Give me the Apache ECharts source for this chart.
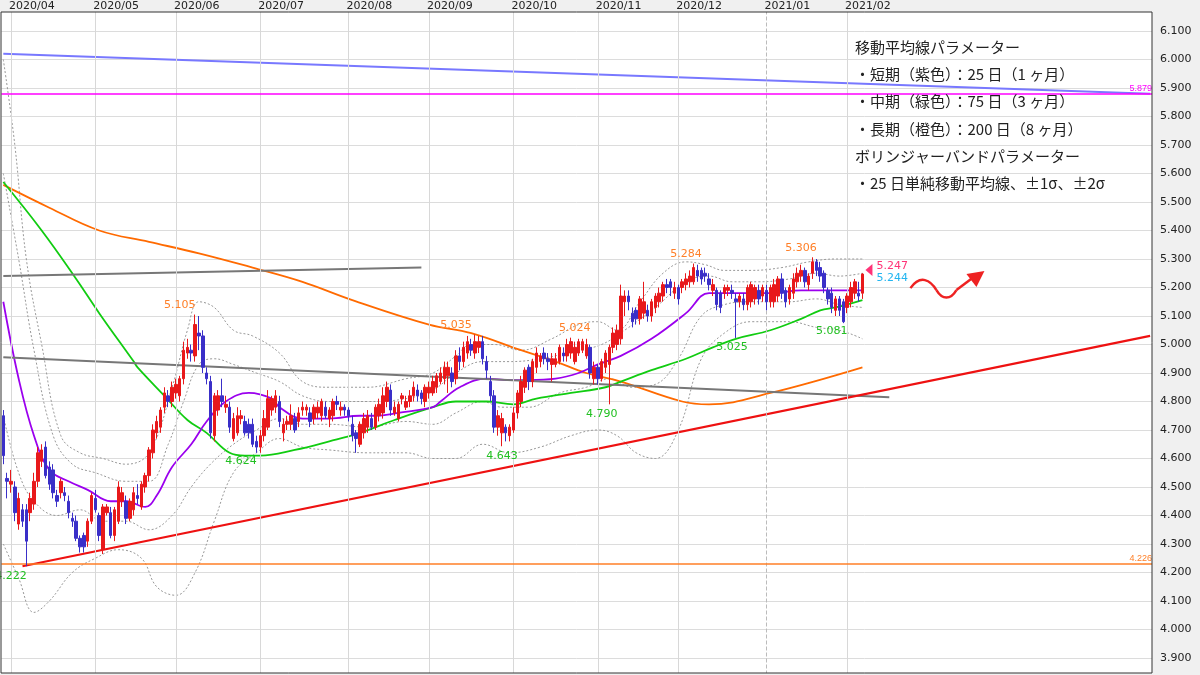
<!DOCTYPE html>
<html><head><meta charset="utf-8">
<script src="https://cdn.jsdelivr.net/npm/echarts@6/dist/echarts.min.js"></script>
<style>html,body{margin:0;padding:0;background:#fff}#c{width:1200px;height:675px}</style>
</head><body><div id="c"></div>
<script>
// ---- data ----
// [open, close, low, high]
const ohlc = [
[4.75,4.61,4.58,4.77],[4.53,4.52,4.46,4.55],[4.51,4.52,4.48,4.56],[4.50,4.41,4.38,4.52],[4.37,4.46,4.35,4.48],
[4.42,4.38,4.36,4.44],[4.42,4.31,4.222,4.44],[4.41,4.46,4.38,4.48],[4.44,4.52,4.42,4.55],[4.52,4.62,4.50,4.64],
[4.59,4.63,4.57,4.65],[4.64,4.54,4.53,4.66],[4.57,4.51,4.49,4.59],[4.56,4.48,4.46,4.58],[4.47,4.45,4.43,4.49],
[4.48,4.52,4.46,4.53],[4.48,4.47,4.45,4.50],[4.45,4.41,4.39,4.47],[4.39,4.38,4.36,4.41],[4.38,4.32,4.31,4.40],
[4.32,4.29,4.27,4.33],[4.33,4.29,4.27,4.34],[4.31,4.38,4.29,4.39],[4.38,4.47,4.37,4.48],[4.46,4.42,4.41,4.49],
[4.40,4.33,4.31,4.41],[4.28,4.43,4.265,4.44],[4.41,4.43,4.40,4.44],[4.41,4.33,4.32,4.43],[4.33,4.42,4.31,4.43],
[4.38,4.50,4.37,4.52],[4.45,4.48,4.43,4.50],[4.45,4.39,4.37,4.47],[4.39,4.45,4.38,4.46],[4.42,4.48,4.40,4.50],
[4.47,4.46,4.44,4.51],[4.43,4.51,4.42,4.52],[4.50,4.54,4.48,4.55],[4.54,4.63,4.52,4.64],[4.62,4.70,4.60,4.72],
[4.69,4.73,4.67,4.75],[4.71,4.77,4.69,4.78],[4.78,4.83,4.76,4.85],[4.82,4.80,4.78,4.84],[4.80,4.85,4.78,4.87],
[4.83,4.86,4.81,4.88],[4.82,4.88,4.80,4.89],[4.88,4.98,4.86,5.01],[4.97,4.99,4.95,5.02],[4.98,4.97,4.94,5.00],
[4.96,5.07,4.94,5.105],[5.04,5.03,4.98,5.10],[5.03,4.92,4.90,5.05],[4.90,4.88,4.86,4.92],[4.87,4.69,4.67,4.89],
[4.68,4.82,4.66,4.83],[4.77,4.82,4.75,4.84],[4.82,4.80,4.78,4.88],[4.78,4.79,4.76,4.82],[4.78,4.71,4.69,4.80],
[4.67,4.74,4.66,4.76],[4.69,4.75,4.68,4.78],[4.74,4.75,4.72,4.77],[4.73,4.69,4.68,4.75],[4.72,4.69,4.67,4.74],
[4.72,4.65,4.64,4.74],[4.66,4.64,4.62,4.68],[4.64,4.68,4.62,4.70],[4.68,4.74,4.66,4.77],[4.71,4.81,4.70,4.84],
[4.77,4.81,4.75,4.82],[4.78,4.82,4.76,4.84],[4.80,4.73,4.71,4.82],[4.69,4.72,4.66,4.74],[4.72,4.73,4.70,4.75],
[4.72,4.75,4.70,4.79],[4.74,4.70,4.69,4.76],[4.73,4.76,4.71,4.78],[4.77,4.78,4.75,4.80],[4.77,4.78,4.75,4.79],
[4.76,4.73,4.71,4.78],[4.74,4.78,4.72,4.79],[4.76,4.78,4.74,4.80],[4.75,4.80,4.73,4.81],[4.78,4.75,4.74,4.80],
[4.74,4.77,4.71,4.78],[4.75,4.80,4.73,4.81],[4.80,4.79,4.77,4.82],[4.77,4.78,4.75,4.80],[4.78,4.77,4.75,4.79],
[4.77,4.75,4.73,4.78],[4.72,4.68,4.66,4.75],[4.69,4.67,4.62,4.70],[4.65,4.72,4.64,4.73],[4.69,4.74,4.67,4.76],
[4.71,4.75,4.69,4.77],[4.74,4.71,4.70,4.76],[4.71,4.78,4.70,4.79],[4.75,4.79,4.73,4.81],[4.76,4.82,4.74,4.85],
[4.80,4.85,4.78,4.87],[4.84,4.77,4.75,4.86],[4.76,4.78,4.75,4.80],[4.74,4.79,4.73,4.80],[4.81,4.82,4.79,4.83],
[4.78,4.80,4.77,4.82],[4.80,4.82,4.78,4.84],[4.82,4.85,4.80,4.87],[4.84,4.82,4.80,4.86],[4.83,4.81,4.79,4.84],
[4.80,4.85,4.78,4.86],[4.83,4.85,4.81,4.87],[4.83,4.87,4.82,4.89],[4.85,4.89,4.83,4.90],[4.87,4.90,4.86,4.92],
[4.88,4.92,4.86,4.94],[4.89,4.92,4.83,4.94],[4.90,4.87,4.85,4.92],[4.88,4.96,4.86,4.98],[4.96,4.94,4.91,4.99],
[4.94,4.99,4.92,5.01],[4.97,5.01,4.95,5.03],[5.00,4.98,4.96,5.02],[4.97,5.01,4.95,5.035],[4.99,5.01,4.97,5.03],
[5.01,4.95,4.93,5.03],[4.94,4.91,4.88,4.96],[4.87,4.82,4.80,4.89],[4.82,4.71,4.69,4.84],[4.71,4.75,4.68,4.77],
[4.69,4.74,4.643,4.76],[4.71,4.69,4.66,4.72],[4.68,4.71,4.66,4.72],[4.70,4.76,4.69,4.78],[4.76,4.83,4.74,4.84],
[4.80,4.87,4.78,4.89],[4.85,4.91,4.83,4.92],[4.92,4.87,4.84,4.93],[4.87,4.94,4.85,4.95],[4.92,4.97,4.90,4.99],
[4.94,4.96,4.92,4.97],[4.97,4.95,4.93,4.99],[4.95,4.94,4.91,4.97],[4.93,4.95,4.87,4.97],[4.93,4.95,4.92,4.97],
[4.94,4.99,4.93,5.00],[4.97,4.96,4.94,4.99],[4.96,5.00,4.94,5.02],[4.97,5.01,4.95,5.024],[4.94,4.99,4.93,5.01],
[4.97,5.01,4.96,5.02],[4.98,5.01,4.97,5.02],[4.96,5.00,4.95,5.02],[4.99,4.90,4.88,5.00],[4.88,4.92,4.86,4.94],
[4.92,4.88,4.86,4.93],[4.88,4.94,4.87,4.95],[4.92,4.97,4.90,4.98],[4.93,4.99,4.79,5.00],[4.99,5.04,4.97,5.06],
[5.00,5.05,4.98,5.07],[5.02,5.17,5.00,5.21],[5.15,5.17,5.10,5.19],[5.17,5.15,5.12,5.19],[5.11,5.08,5.06,5.13],
[5.12,5.09,5.07,5.13],[5.09,5.16,5.07,5.17],[5.11,5.15,5.09,5.22],[5.12,5.10,5.08,5.14],[5.10,5.15,5.08,5.16],
[5.13,5.17,5.11,5.18],[5.15,5.18,5.13,5.20],[5.17,5.21,5.15,5.22],[5.21,5.20,5.18,5.23],[5.22,5.20,5.17,5.23],
[5.18,5.20,5.16,5.22],[5.20,5.16,5.14,5.21],[5.20,5.22,5.18,5.23],[5.21,5.23,5.19,5.25],[5.22,5.24,5.20,5.26],
[5.22,5.27,5.21,5.284],[5.26,5.24,5.22,5.28],[5.26,5.23,5.21,5.27],[5.25,5.24,5.22,5.27],[5.23,5.21,5.19,5.25],
[5.19,5.21,5.17,5.23],[5.19,5.14,5.12,5.20],[5.18,5.13,5.11,5.19],[5.18,5.20,5.16,5.21],[5.19,5.20,5.17,5.21],
[5.19,5.18,5.16,5.21],[5.16,5.15,5.023,5.18],[5.15,5.17,5.13,5.18],[5.16,5.14,5.12,5.18],[5.14,5.20,5.12,5.21],
[5.15,5.21,5.13,5.22],[5.16,5.20,5.14,5.21],[5.19,5.16,5.14,5.21],[5.17,5.20,5.15,5.21],[5.19,5.15,5.12,5.21],
[5.15,5.20,5.13,5.21],[5.15,5.21,5.13,5.23],[5.17,5.23,5.15,5.24],[5.23,5.18,5.16,5.25],[5.19,5.15,5.13,5.20],
[5.16,5.20,5.14,5.21],[5.18,5.23,5.16,5.25],[5.22,5.25,5.20,5.27],[5.24,5.26,5.22,5.28],[5.26,5.22,5.20,5.27],
[5.21,5.24,5.19,5.25],[5.25,5.29,5.23,5.306],[5.29,5.26,5.24,5.30],[5.27,5.24,5.22,5.29],[5.25,5.20,5.18,5.26],
[5.19,5.16,5.14,5.20],[5.18,5.13,5.11,5.20],[5.12,5.16,5.10,5.17],[5.16,5.12,5.10,5.17],[5.15,5.08,5.075,5.16],
[5.13,5.17,5.11,5.18],[5.15,5.20,5.13,5.22],[5.18,5.22,5.16,5.23],[5.18,5.17,5.15,5.22],[5.18,5.247,5.16,5.25]
];
const ma25 = [[0,5.15],[4,4.88],[8,4.68],[12,4.56],[17,4.52],[22,4.49],[28,4.45],[32,4.45],[37,4.43],[40,4.47],[44,4.57],[49,4.65],[53,4.73],[58,4.80],[64,4.83],[70,4.81],[72,4.78],[78,4.74],[85,4.74],[93,4.75],[97,4.75],[103,4.76],[112,4.78],[114,4.80],[119,4.85],[126,4.88],[132,4.875],[137,4.875],[144,4.88],[150,4.90],[155,4.93],[161,4.96],[169,5.02],[178,5.11],[184,5.18],[191,5.18],[200,5.18],[208,5.19],[213,5.19],[217,5.19],[224,5.19]];
const ma75 = [[0,5.57],[10,5.40],[19,5.23],[25,5.11],[34,4.94],[35,4.92],[42,4.82],[48,4.735],[53,4.69],[59,4.62],[63,4.61],[67,4.61],[76,4.63],[85,4.66],[93,4.69],[102,4.735],[112,4.78],[118,4.80],[126,4.80],[133,4.79],[139,4.81],[148,4.83],[157,4.85],[161,4.87],[169,4.91],[178,4.95],[185,4.99],[191,5.02],[200,5.05],[208,5.09],[213,5.12],[217,5.13],[224,5.156]];
const ma200 = [[0,5.56],[12,5.48],[25,5.40],[38,5.36],[51,5.32],[65,5.27],[78,5.22],[91,5.156],[111,5.07],[122,5.04],[135,4.98],[144,4.94],[152,4.90],[161,4.87],[177,4.80],[184,4.79],[200,4.83],[224,4.92]];
const bbUp2 = [[0,6.0],[3,5.7],[6,5.3],[10,5.0],[15,4.68],[20,4.62],[26,4.60],[32,4.58],[38,4.62],[44,4.85],[48,5.05],[51,5.15],[55,5.13],[60,5.05],[65,5.03],[72,4.97],[78,4.87],[85,4.85],[95,4.85],[105,4.88],[112,4.90],[118,4.96],[122,5.00],[128,5.00],[135,4.98],[143,5.02],[150,5.07],[155,5.08],[160,5.05],[166,5.15],[172,5.25],[178,5.29],[183,5.28],[188,5.26],[195,5.26],[203,5.27],[210,5.29],[217,5.30],[224,5.30]];
const bbUp1 = [[0,5.6],[4,5.3],[8,4.98],[13,4.68],[18,4.58],[24,4.55],[32,4.52],[38,4.52],[43,4.65],[47,4.80],[51,4.93],[55,4.95],[60,4.93],[66,4.90],[72,4.87],[78,4.82],[85,4.80],[95,4.80],[105,4.81],[112,4.84],[118,4.90],[125,4.94],[132,4.94],[140,4.95],[150,4.98],[156,5.00],[162,5.05],[170,5.13],[178,5.22],[184,5.24],[190,5.22],[197,5.22],[205,5.23],[212,5.25],[218,5.24],[224,5.25]];
const bbLo1 = [[0,4.75],[4,4.55],[8,4.45],[14,4.40],[20,4.42],[26,4.38],[32,4.38],[38,4.35],[44,4.40],[49,4.50],[54,4.58],[60,4.65],[66,4.70],[72,4.74],[78,4.72],[85,4.72],[95,4.71],[105,4.73],[112,4.72],[118,4.76],[125,4.80],[130,4.78],[137,4.78],[145,4.83],[152,4.85],[158,4.88],[164,4.85],[170,4.86],[176,4.95],[182,5.10],[188,5.14],[195,5.15],[205,5.15],[212,5.16],[218,5.14],[224,5.13]];
const bbLo2 = [[0,4.30],[4,4.18],[8,4.06],[12,4.10],[18,4.20],[24,4.25],[30,4.28],[36,4.25],[40,4.15],[45,4.12],[50,4.20],[55,4.38],[60,4.55],[66,4.62],[72,4.67],[78,4.64],[85,4.63],[95,4.62],[105,4.62],[112,4.60],[118,4.60],[125,4.65],[132,4.62],[140,4.64],[148,4.68],[155,4.70],[160,4.68],[165,4.62],[170,4.60],[176,4.70],[182,4.95],[188,5.04],[195,5.08],[205,5.08],[212,5.06],[218,5.05],[224,5.02]];
const trendBlue = [[0,6.02],[299,5.88]];
const trendRed = [[5,4.222],[299,5.03]];
const trendGrayUp = [[0,5.24],[109,5.27]];
const trendGrayLo = [[0,4.955],[231,4.815]];
const hLineMagenta = 5.879;
const hLineOrange = 4.226;
const highLabels = [[46,5.105],[118,5.035],[149,5.024],[178,5.284],[208,5.306]];
const lowLabels = [[2,4.222],[62,4.624],[130,4.643],[156,4.790],[190,5.025],[216,5.081]];
const lastPrice = 5.247, lastPrice2 = 5.244;
const yTicks = ['3.900','4.000','4.100','4.200','4.300','4.400','4.500','4.600','4.700','4.800','4.900','5.000','5.100','5.200','5.300','5.400','5.500','5.600','5.700','5.800','5.900','6.000','6.100'];
const noteLines = ['移動平均線パラメーター','・短期（紫色）：25 日（1 ヶ月）','・中期（緑色）：75 日（3 ヶ月）','・長期（橙色）：200 日（8 ヶ月）','ボリンジャーバンドパラメーター','・25 日単純移動平均線、±1σ、±2σ'];
const N = 300;
// weekday categories from 2020-03-30
const dates = [];
{ let d = new Date(Date.UTC(2020,2,30)); while (dates.length < N) { const wd = d.getUTCDay(); if (wd!==0 && wd!==6) dates.push(d.getUTCFullYear()+'/'+String(d.getUTCMonth()+1).padStart(2,'0')+'/'+String(d.getUTCDate()).padStart(2,'0')); d.setUTCDate(d.getUTCDate()+1);} }
const monthStarts = [];
for (let i=1;i<N;i++){ if (dates[i].slice(0,7)!==dates[i-1].slice(0,7)) monthStarts.push(i); }
const monthsShown = monthStarts.filter(i=>dates[i] <= '2021/02/28');

const chart = echarts.init(document.getElementById('c'));
const FONT = 'Noto Sans CJK JP';
function line(data, color, width, type, smooth){
  return {type:'line', data, symbol:'none', smooth: smooth?0.4:false, silent:true,
    lineStyle:{color, width, type: type||'solid'}, z: 3};
}
const option = {
  animation:false,
  backgroundColor:'#ffffff',
  grid:{left:1.4, width:1150.6, top:2.5, height:684, containLabel:false, outerBoundsMode:'none'},
  xAxis:{type:'category', data:dates, boundaryGap:true, axisLine:{show:false}, axisTick:{show:false}, axisLabel:{show:false}, splitLine:{show:false}},
  yAxis:{type:'value', position:'right', min:3.8, max:6.2, interval:0.1, scale:true,
    axisLine:{show:false}, axisTick:{show:false},
    axisLabel:{color:'#222', fontSize:11, fontFamily:'DejaVu Sans', margin:8,
      formatter:v=>{const s=v.toFixed(3); return yTicks.includes(s)?s:'';}},
    splitLine:{lineStyle:{color:'#dcdcdc', width:1}}},
  series:[
    {type:'line', data:[], silent:true, markLine:{silent:true, symbol:'none', label:{show:false},
      data: monthsShown.map(i=>({xAxis:i, lineStyle:{color: dates[i].startsWith('2021/01')?'#bbb':'#d8d8d8', width:1, type: dates[i].startsWith('2021/01')?'dashed':'solid'}}))}},
    line(bbUp2,'#999',1,[2,2],true), line(bbUp1,'#999',1,[2,2],true), line(bbLo1,'#999',1,[2,2],true), line(bbLo2,'#999',1,[2,2],true),
    line(ma200,'#ff6a00',1.8,null,true), line(ma75,'#11cc11',1.8,null,true), line(ma25,'#9b00ee',1.8,null,true),
    line(trendBlue,'#7878ff',2), line(trendGrayUp,'#777',2), line(trendGrayLo,'#777',2), line(trendRed,'#ee1111',2.2),
    {type:'line', data:[], silent:true, markLine:{silent:true, symbol:'none', data:[
      {yAxis:hLineMagenta, lineStyle:{color:'#ff00ff', width:1.6, type:'solid'}, label:{position:'insideEndTop', formatter:hLineMagenta.toFixed(3), color:'#ff00ff', fontSize:9, distance:[0,1]}},
      {yAxis:hLineOrange, lineStyle:{color:'#ff7f27', width:1.6, type:'solid'}, label:{position:'insideEndTop', formatter:hLineOrange.toFixed(3), color:'#ff7f27', fontSize:9, distance:[0,1]}}
    ]}},
    {type:'candlestick', data:ohlc, barWidth:3, z:5,
      itemStyle:{color:'#e8191b', color0:'#3a2fc8', borderColor:'#e8191b', borderColor0:'#3a2fc8', borderWidth:1},
      markPoint:{silent:true, symbol:'circle', symbolSize:0, data:[
        ...highLabels.map(p=>({coord:p, label:{show:true, position:'top', distance:4, formatter:p[1].toFixed(3), color:'#ff7f27', fontSize:11, fontFamily:'DejaVu Sans'}})),
        ...lowLabels.map(p=>({coord:p, label:{show:true, position:'bottom', distance:4, formatter:p[1].toFixed(3), color:'#22c022', fontSize:11, fontFamily:'DejaVu Sans'}}))
      ]}}
  ]
};
chart.setOption(option);

// decorations placed through the chart's own scales
const gEls = [];
gEls.push({type:'rect', shape:{x:1152,y:0,width:48,height:675}, style:{fill:'#f0f0f0'}, z:-10, silent:true});
gEls.push({type:'rect', shape:{x:0,y:0,width:1200,height:12}, style:{fill:'#f0f0f0'}, z:10, silent:true});
gEls.push({type:'rect', shape:{x:0,y:673,width:1152,height:2}, style:{fill:'#f0f0f0'}, z:10, silent:true});
gEls.push({type:'polyline', shape:{points:[[1,12],[1152,12],[1152,673],[1,673],[1,12]]}, style:{stroke:'#333', lineWidth:1, fill:null}, z:11, silent:true});
monthsShown.forEach(i=>{
  const x = chart.convertToPixel({xAxisIndex:0}, i);
  gEls.push({type:'text', x:x-2, y:6, style:{text:dates[i].slice(0,7), fill:'#222', font:'11px DejaVu Sans', textVerticalAlign:'middle'}, z:12, silent:true});
});
noteLines.forEach((t,k)=>{
  gEls.push({type:'text', x:855, y:47+k*27.3, style:{text:t, fill:'#222', font:'15px "'+FONT+'"', textVerticalAlign:'middle'}, z:12, silent:true});
});
const lp = chart.convertToPixel({gridIndex:0}, [224, lastPrice]);
gEls.push({type:'polygon', shape:{points:[[lp[0]+3,lp[1]-4],[lp[0]+10,lp[1]-10],[lp[0]+10,lp[1]+2]]}, style:{fill:'#ff3377'}, z:12, silent:true});
gEls.push({type:'text', x:lp[0]+14, y:lp[1]-8, style:{text:lastPrice.toFixed(3), fill:'#ff3377', font:'11px DejaVu Sans', textVerticalAlign:'middle'}, z:12, silent:true});
gEls.push({type:'text', x:lp[0]+14, y:lp[1]+4, style:{text:lastPrice2.toFixed(3), fill:'#22b5f0', font:'11px DejaVu Sans', textVerticalAlign:'middle'}, z:12, silent:true});
const ax = lp[0]+48, ay = lp[1]+14;
const arrowStyle = {stroke:'#ee2222', lineWidth:2.5, fill:null};
gEls.push({type:'bezierCurve', shape:{x1:ax,y1:ay,cpx1:ax+10,cpy1:ay-14,cpx2:ax+20,cpy2:ay-8,x2:ax+26,y2:ay+2}, style:arrowStyle, z:12, silent:true});
gEls.push({type:'bezierCurve', shape:{x1:ax+26,y1:ay+2,cpx1:ax+32,cpy1:ay+12,cpx2:ax+40,cpy2:ay+12,x2:ax+46,y2:ay+2}, style:arrowStyle, z:12, silent:true});
gEls.push({type:'line', shape:{x1:ax+46,y1:ay+2,x2:ax+62,y2:ay-10}, style:arrowStyle, z:12, silent:true});
gEls.push({type:'polygon', shape:{points:[[ax+74,ay-17],[ax+56,ay-14],[ax+66,ay-1]]}, style:{fill:'#ee2222'}, z:12, silent:true});
chart.setOption({graphic:{elements:gEls}});
</script></body></html>
